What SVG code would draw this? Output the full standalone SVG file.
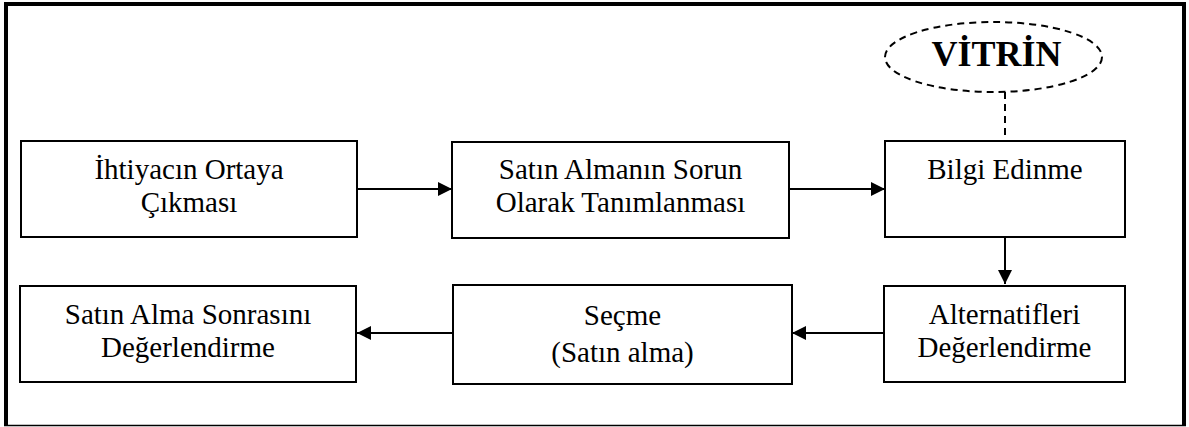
<svg xmlns="http://www.w3.org/2000/svg" width="1189" height="427" viewBox="0 0 1189 427">
  <style>
    .box { fill: #ffffff; stroke: #000000; stroke-width: 2; }
    .lbl { font-family: "Liberation Serif", "Times New Roman", serif; font-size: 29px; fill: #000000; text-anchor: middle; }
    .title { font-family: "Liberation Serif", "Times New Roman", serif; font-size: 36px; font-weight: bold; fill: #000000; text-anchor: middle; }
    .link { stroke: #000000; stroke-width: 2; fill: none; }
    .dash { stroke: #000000; stroke-width: 2; fill: none; stroke-dasharray: 7 5; }
  </style>
  <defs>
    <marker id="arrow" markerWidth="14" markerHeight="14" refX="14" refY="7" orient="auto" markerUnits="userSpaceOnUse">
      <path d="M0,0 L14,7 L0,14 Z" fill="#000000"/>
    </marker>
  </defs>

  <rect x="0" y="0" width="1189" height="427" fill="#ffffff"/>

  <!-- outer frame -->
  <g id="frame" stroke="#000000" fill="none">
    <line x1="4" y1="4" x2="1186" y2="4" stroke-width="4"/>
    <line x1="6" y1="2" x2="6" y2="426" stroke-width="4"/>
    <line x1="1184" y1="2" x2="1184" y2="426" stroke-width="4"/>
    <line x1="4" y1="425.5" x2="1186" y2="425.5" stroke-width="1.5"/>
  </g>

  <!-- connectors -->
  <g id="connectors">
    <line class="link" x1="357" y1="189" x2="452" y2="189" marker-end="url(#arrow)"/>
    <line class="link" x1="789" y1="189" x2="885" y2="189" marker-end="url(#arrow)"/>
    <line class="link" x1="1005" y1="237" x2="1005" y2="284" marker-end="url(#arrow)"/>
    <line class="link" x1="883" y1="333" x2="792" y2="333" marker-end="url(#arrow)"/>
    <line class="link" x1="453" y1="333" x2="357" y2="333" marker-end="url(#arrow)"/>
    <line class="dash" x1="1005" y1="92" x2="1005" y2="141"/>
  </g>

  <g id="vitrin">
    <ellipse cx="993.5" cy="57" rx="108.5" ry="35" class="dash"/>
    <text class="title" x="996.5" y="66">VİTRİN</text>
  </g>

  <g id="ihtiyac">
    <rect class="box" x="21" y="141" width="336" height="96"/>
    <text class="lbl" x="189" y="179">İhtiyacın Ortaya</text>
    <text class="lbl" x="189" y="212">Çıkması</text>
  </g>

  <g id="sorun">
    <rect class="box" x="452" y="142" width="337" height="96"/>
    <text class="lbl" x="620.5" y="179">Satın Almanın Sorun</text>
    <text class="lbl" x="620.5" y="212">Olarak Tanımlanması</text>
  </g>

  <g id="bilgi">
    <rect class="box" x="885" y="141" width="240" height="96"/>
    <text class="lbl" x="1005" y="179">Bilgi Edinme</text>
  </g>

  <g id="alternatif">
    <rect class="box" x="884" y="286" width="241" height="96"/>
    <text class="lbl" x="1004.5" y="324">Alternatifleri</text>
    <text class="lbl" x="1004.5" y="357">Değerlendirme</text>
  </g>

  <g id="secme">
    <rect class="box" x="453" y="285" width="339" height="99"/>
    <text class="lbl" x="622.5" y="325">Seçme</text>
    <text class="lbl" x="622.5" y="362">(Satın alma)</text>
  </g>

  <g id="sonrasi">
    <rect class="box" x="20" y="286" width="336" height="96"/>
    <text class="lbl" x="188" y="324">Satın Alma Sonrasını</text>
    <text class="lbl" x="188" y="357">Değerlendirme</text>
  </g>
</svg>
